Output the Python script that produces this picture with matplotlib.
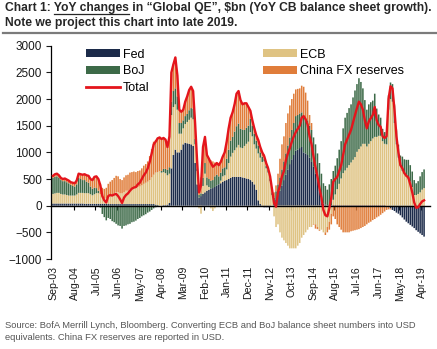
import numpy as np
import pandas as pd
import matplotlib
matplotlib.use("Agg")
import matplotlib.pyplot as plt
from matplotlib import font_manager
from matplotlib.patches import Patch
from matplotlib.lines import Line2D

# YoY change in central bank balance sheets, $bn, monthly Sep-03 .. May-19
fed = [
    40, 40, 40, 40,
    40, 40, 40, 40, 40, 40, 40, 40, 40, 40, 40, 40,
    35, 35, 35, 35, 35, 35, 35, 35, 35, 35, 35, 35,
    30, 30, 30, 30, 30, 30, 30, 30, 30, 30, 30, 30,
    30, 30, 30, 30, 30, 30, 30, 30, 30, 30, 30, 30,
    20, 10, 0, 0, 10, 10, 20, 50, 700, 950, 1050, 1000,
    1000, 1050, 1150, 1180, 1170, 1160, 1150, 1120, 800, 400, 150, 180,
    220, 250, 280, 300, 320, 330, 350, 380, 400, 420, 450, 470,
    480, 500, 520, 540, 540, 540, 540, 540, 530, 520, 510, 500,
    480, 450, 400, 300, 100, 30, -20, -30, -30, -30, -20, 0,
    50, 120, 200, 280, 380, 480, 580, 680, 780, 870, 950, 1030,
    1050, 1080, 1100, 1000, 980, 950, 900, 820, 730, 600, 480, 300,
    150, 40, 20, 10, 10, 10, 10, 10, 10, 10, 10, 10,
    10, 10, 10, 10, 10, 10, 10, 10, 10, 10, 10, 10,
    10, 10, 10, 10, 10, 10, 10, 10, 10, 0, -20, -50,
    -80, -100, -130, -150, -180, -220, -260, -300, -330, -360, -390, -420,
    -460, -490, -520, -550, -580,
]

ecb = [
    180, 190, 200, 200,
    180, 170, 170, 160, 150, 150, 150, 150, 170, 200, 200, 200,
    200, 200, 200, 180, 160, 180, 200, 200, 180, 120, 100, 100,
    150, 170, 180, 200, 220, 220, 200, 200, 220, 250, 250, 280,
    280, 300, 300, 320, 330, 350, 380, 400, 420, 450, 500, 550,
    600, 620, 650, 620, 620, 600, 550, 550, 1000, 900, 850, 800,
    350, 300, 300, 350, 400, 450, 500, 500, 350, 250, -50, -150,
    150, 350, 100, 50, -50, -100, -50, 0, 0, 50, 100, 100,
    200, 300, 400, 450, 500, 550, 600, 550, 550, 600, 650, 700,
    900, 850, 750, 770, 880, 870, 820, 830, 700, 620, 460, 200,
    -200, -400, -350, -500, -600, -650, -700, -750, -800, -800, -800, -800,
    -750, -700, -600, -550, -500, -450, -400, -400, -350, -350, -400, -450,
    -450, -500, -500, -400, -300, -150, 100, 200, 300, 400, 500, 600,
    650, 700, 750, 800, 850, 900, 1000, 1050, 1100, 1150, 1150, 1100,
    1150, 1200, 1250, 1280, 1280, 1300, 1300, 1200, 1150, 1150, 1800, 2000,
    1950, 1550, 1150, 900, 750, 650, 600, 550, 500, 450, 350, 200,
    200, 220, 250, 300, 330,
]

boj = [
    300, 310, 310, 290,
    260, 250, 250, 240, 230, 200, 180, 170, 190, 280, 260, 240,
    245, 215, 195, 145, 125, 125, 95, 45, -35, -155, -215, -275,
    -230, -250, -290, -310, -340, -370, -380, -430, -380, -370, -350, -340,
    -310, -300, -280, -250, -230, -200, -180, -160, -130, -110, -80, -50,
    -30, -20, 0, 30, 60, 80, 100, 120, 250, 300, 300, 250,
    200, 200, 150, 150, 150, 180, 180, 200, 100, 50, 50, 50,
    150, 200, 150, 150, 150, 150, 200, 200, 150, 150, 150, 150,
    200, 250, 300, 300, 350, 400, 400, 350, 350, 300, 300, 300,
    250, 200, 200, 150, 150, 100, 100, 50, 50, 50, 50, 50,
    100, 150, 200, 250, 300, 350, 400, 450, 500, 550, 600, 650,
    650, 650, 650, 650, 650, 650, 600, 600, 550, 550, 500, 500,
    450, 380, 350, 290, 390, 490, 540, 540, 580, 640, 700, 840,
    990, 1030, 1070, 1090, 1170, 1250, 1270, 1330, 1210, 1040, 820, 690,
    740, 730, 710, 810, 530, 400, 340, 230, 220, 230, 270, 310,
    330, 330, 260, 240, 190, 270, 270, 310, 360, 310, 290, 280,
    220, 240, 300, 330, 350,
]

china = [
    40, 50, 50, 40,
    40, 40, 50, 50, 50, 50, 60, 60, 70, 80, 90, 100,
    110, 120, 130, 140, 160, 200, 220, 220, 200, 180, 180, 200,
    230, 250, 270, 290, 310, 300, 270, 250, 280, 290, 300, 310,
    320, 310, 300, 300, 300, 320, 340, 350, 380, 450, 530, 620,
    610, 650, 630, 600, 580, 550, 430, 580, 550, 500, 580, 400,
    250, 210, 200, 270, 330, 380, 400, 330, 300, 150, 100, 300,
    580, 490, 420, 380, 380, 350, 260, 220, 210, 200, 220, 280,
    320, 400, 430, 460, 510, 610, 610, 540, 470, 500, 460, 350,
    150, 100, 100, 100, 100, 100, 100, 80, 80, 60, 60, 50,
    100, 110, 200, 350, 470, 470, 570, 600, 600, 580, 550, 500,
    490, 470, 500, 580, 490, 370, 200, 130, -10, -80, -40, -20,
    0, 0, -50, -100, -150, -200, -200, -250, -350, -400, -450, -500,
    -500, -500, -500, -480, -470, -460, -450, -440, -420, -400, -380, -350,
    -320, -300, -270, -250, -220, -200, -170, -140, -110, -80, -50, -20,
    0, 20, 20, 10, 0, 0, 0, 0, 0, 0, 0, 0,
    0, 0, 0, 0, 0,
]

total = [
    560, 590, 600, 570,
    520, 500, 510, 490, 470, 440, 430, 420, 470, 600, 590, 580,
    590, 570, 560, 500, 480, 540, 550, 500, 380, 180, 100, 60,
    180, 200, 190, 210, 220, 180, 120, 50, 150, 200, 230, 280,
    320, 340, 350, 400, 430, 500, 570, 620, 700, 820, 980, 1150,
    1200, 1260, 1280, 1250, 1270, 1240, 1100, 1300, 2500, 2650, 2780, 2450,
    1800, 1760, 1800, 1950, 2050, 2170, 2230, 2150, 1550, 850, 250, 380,
    1100, 1290, 950, 880, 800, 730, 760, 800, 760, 820, 920, 1000,
    1200, 1450, 1650, 1750, 1900, 2100, 2150, 1980, 1900, 1920, 1920, 1850,
    1780, 1600, 1450, 1320, 1230, 1100, 1000, 930, 800, 700, 550, 300,
    50, -20, 250, 380, 550, 650, 850, 980, 1080, 1200, 1300, 1380,
    1440, 1500, 1650, 1680, 1620, 1520, 1300, 1150, 920, 720, 540, 330,
    150, -80, -180, -200, -50, 150, 450, 500, 540, 650, 760, 950,
    1150, 1240, 1330, 1420, 1560, 1700, 1830, 1950, 1900, 1800, 1600, 1450,
    1580, 1640, 1700, 1850, 1600, 1510, 1480, 1300, 1270, 1300, 2000, 2240,
    2200, 1800, 1300, 1000, 760, 700, 610, 560, 530, 400, 250, 60,
    -40, -30, 30, 80, 100,
]

months = pd.date_range("2003-09-01", periods=len(total), freq="MS")
label_step = 11

FED_C = "#1c2b4a"
ECB_C = "#dfc383"
BOJ_C = "#3d6a48"
CHN_C = "#e07d3a"
RED = "#e4151c"

names = {f.name for f in font_manager.fontManager.ttflist}
NARROW = "Liberation Sans Narrow" if "Liberation Sans Narrow" in names else "Liberation Sans"
plt.rcParams["font.family"] = "Liberation Sans"

W, H = 437, 349
fig = plt.figure(figsize=(W / 100, H / 100), dpi=100)
ax = fig.add_axes([51 / W, 1 - 259 / H, 379 / W, (259 - 45.7) / H])

x = np.arange(len(months))
series = [("Fed", fed, FED_C), ("ECB", ecb, ECB_C),
          ("BoJ", boj, BOJ_C), ("China FX reserves", china, CHN_C)]

# stack positives upwards and negatives downwards separately
up = np.zeros(len(x))
down = np.zeros(len(x))
for name, vals, col in series:
    v = np.asarray(vals, dtype=float)
    base = np.where(v >= 0, up, down)
    bars = ax.bar(x, v, bottom=base, width=0.78, color=col, linewidth=0, zorder=2)
    for b in bars:
        b.set_snap(False)
    up += np.clip(v, 0, None)
    down += np.clip(v, None, 0)

ax.plot(x, total, color=RED, lw=1.7, zorder=4, solid_joinstyle="round")

ax.set_xlim(-1, 191)
ax.set_ylim(-1000, 3000)
ax.set_yticks(np.arange(-1000, 3001, 500))
ax.tick_params(axis="y", direction="out", length=3.5, width=0.8,
               labelsize=8.5, colors="#1a1a1a", pad=3)

for s in ("top", "right"):
    ax.spines[s].set_visible(False)
ax.spines["left"].set_linewidth(0.9)
ax.spines["bottom"].set_position(("data", 0))
ax.spines["bottom"].set_linewidth(1.0)

tick_idx = np.arange(0, len(months), label_step)
ax.set_xticks(tick_idx[1:] - 0.5)
ax.tick_params(axis="x", direction="out", length=3, width=0.8, labelbottom=False)

for i in tick_idx:
    ax.annotate(months[i].strftime("%b-%y"), xy=(i, 0),
                xycoords=("data", "axes fraction"), xytext=(0, -5),
                textcoords="offset points", rotation=90, ha="center",
                va="top", fontsize=7.6, color="#1a1a1a")

# legend, two blocks
lkw = dict(loc="upper left", frameon=False, fontsize=9, handlelength=2.7,
           handleheight=0.55, handletextpad=0.25, labelspacing=0.38,
           borderpad=0, borderaxespad=0)
h_left = [Patch(fc=FED_C), Patch(fc=BOJ_C), Line2D([], [], color=RED, lw=2)]
fig.legend(h_left, ["Fed", "BoJ", "Total"],
           bbox_to_anchor=(86 / W, 1 - 48.5 / H), **lkw)
h_right = [Patch(fc=ECB_C), Patch(fc=CHN_C)]
fig.legend(h_right, ["ECB", "China FX reserves"],
           bbox_to_anchor=(263 / W, 1 - 48.5 / H), **lkw)


def fit_width(txt, target_px, renderer):
    # shrink or grow a text's font until its width is target_px
    w = txt.get_window_extent(renderer).width
    txt.set_fontsize(txt.get_fontsize() * target_px / w)


fig.canvas.draw()
r = fig.canvas.get_renderer()

# title, with "YoY changes" underlined
tcol = "#262626"
x0 = 5 / W
y1 = 1 - 11 / H
line1 = "Chart 1: YoY changes in \u201cGlobal QE\u201d, $bn (YoY CB balance sheet growth)."
t1 = fig.text(x0, y1, line1, fontsize=9, fontweight="bold", family=NARROW,
              color=tcol, va="baseline", ha="left")
fit_width(t1, 427, r)
tsize = t1.get_fontsize()
tkw = dict(fontsize=tsize, fontweight="bold", family=NARROW, color=tcol,
           va="baseline", ha="left")
fig.text(x0, 1 - 26 / H, "Note we project this chart into late 2019.", **tkw)

probe = fig.text(x0, y1, "Chart 1: YoY changes", **tkw)
w_all = probe.get_window_extent(r).width
probe.set_text("YoY changes")
w_u = probe.get_window_extent(r).width
probe.remove()
ux0 = x0 + (w_all - w_u) / W
ux1 = x0 + w_all / W
uy = 1 - 13.5 / H
fig.add_artist(Line2D([ux0, ux1], [uy, uy], transform=fig.transFigure,
                      color=tcol, lw=0.9))

# rule under the title
fig.add_artist(Line2D([3 / W, 1], [1 - 33 / H] * 2, transform=fig.transFigure,
                      color="#7b7b7b", lw=1.6))

src1 = "Source: BofA Merrill Lynch, Bloomberg. Converting ECB and BoJ balance sheet numbers into USD"
src2 = "equivalents. China FX reserves are reported in USD."
s1 = fig.text(5 / W, 1 - 327.5 / H, src1, fontsize=7, family=NARROW,
              color="#555555", va="baseline", ha="left")
fit_width(s1, 410, r)
fig.text(5 / W, 1 - 340 / H, src2, fontsize=s1.get_fontsize(), family=NARROW,
         color="#555555", va="baseline", ha="left")

fig.savefig("out.png", dpi=100)
